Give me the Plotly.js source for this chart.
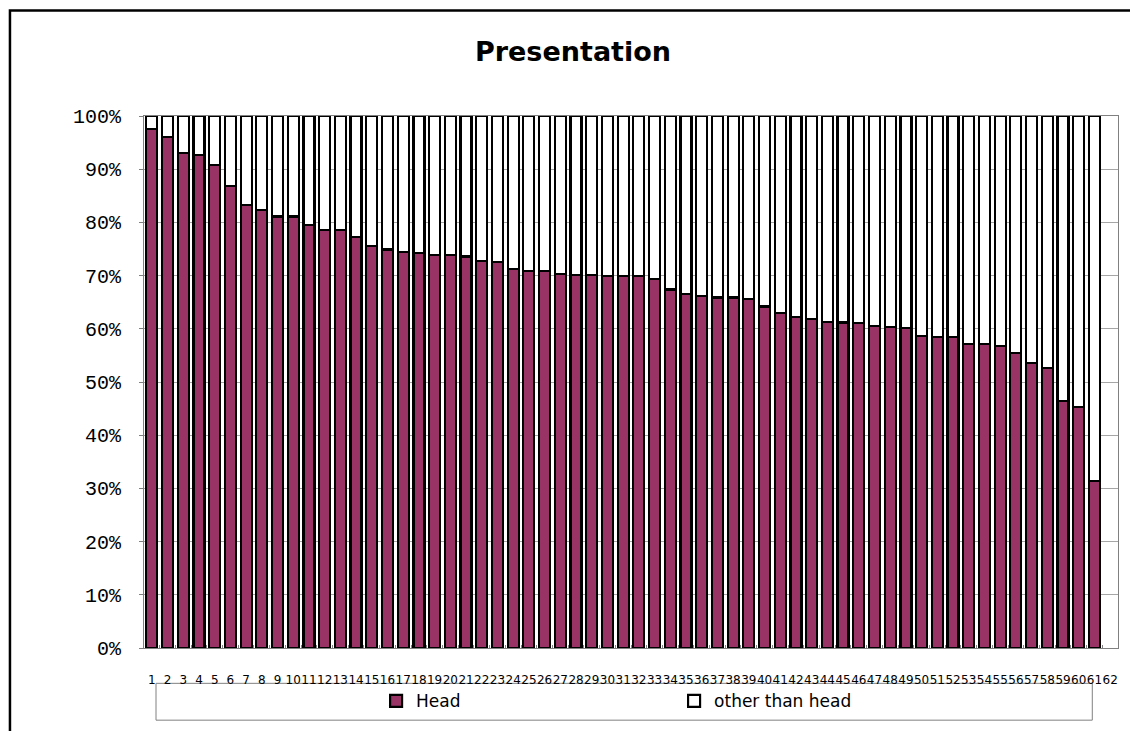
<!DOCTYPE html>
<html>
<head>
<meta charset="utf-8">
<script src="https://cdn.plot.ly/plotly-3.0.1.min.js"></script>
<style>
html,body{margin:0;padding:0;background:#fff;}
#chart{width:1130px;height:731px;}
</style>
</head>
<body>
<div id="chart"></div>
<script>
var categories = ['1','2','3','4','5','6','7','8','9','10','11','12','13','14','15','16','17','18','19','20',
  '21','22','23','24','25','26','27','28','29','30','31','32','33','34','35','36','37','38','39','40',
  '41','42','43','44','45','46','47','48','49','50','51','52','53','54','55','56','57','58','59','60','61','62'];

var headValues = [97.5, 96.1, 93.0, 92.7, 90.8, 86.9, 83.2, 82.3, 81.1, 81.1,
  79.5, 78.6, 78.6, 77.3, 75.6, 74.9, 74.5, 74.3, 73.8, 73.8,
  73.6, 72.8, 72.6, 71.3, 70.9, 70.9, 70.3, 70.1, 70.1, 70.0,
  69.9, 69.9, 69.3, 67.4, 66.5, 66.2, 65.9, 65.9, 65.6, 64.2,
  62.9, 62.2, 61.8, 61.3, 61.2, 61.1, 60.5, 60.3, 60.2, 58.7,
  58.4, 58.4, 57.1, 57.1, 56.7, 55.5, 53.5, 52.6, 46.5, 45.3,
  31.4, null];

var otherValues = [2.5, 3.9, 7.0, 7.3, 9.2, 13.1, 16.8, 17.7, 18.9, 18.9,
  20.5, 21.4, 21.4, 22.7, 24.4, 25.1, 25.5, 25.7, 26.2, 26.2,
  26.4, 27.2, 27.4, 28.7, 29.1, 29.1, 29.7, 29.9, 29.9, 30.0,
  30.1, 30.1, 30.7, 32.6, 33.5, 33.8, 34.1, 34.1, 34.4, 35.8,
  37.1, 37.8, 38.2, 38.7, 38.8, 38.9, 39.5, 39.7, 39.8, 41.3,
  41.6, 41.6, 42.9, 42.9, 43.3, 44.5, 46.5, 47.4, 53.5, 54.7,
  68.6, null];

var yTickVals = [0,10,20,30,40,50,60,70,80,90,100];
var yTickText = ['0%','10%','20%','30%','40%','50%','60%','70%','80%','90%','100%'];

var seriesNames = ['Head', 'other than head'];

var traces = [
  {type:'bar', name:seriesNames[0], x:categories, y:headValues,
   marker:{color:'#993366', line:{color:'#000000', width:2.2}}},
  {type:'bar', name:seriesNames[1], x:categories, y:otherValues,
   marker:{color:'#ffffff', line:{color:'#000000', width:2.2}}}
];

// plot area in pixels: left 144, right 1117.7, top 116, bottom 650.5
var L = 144, R = 1130 - 1117.7, T = 116, B = 731 - 650.5;
var pw = 1130 - L - R, ph = 731 - T - B;
function px(x){ return (x - L) / pw; }
function py(y){ return (731 - B - y) / ph; }

var layout = {
  width:1130, height:731,
  paper_bgcolor:'#ffffff', plot_bgcolor:'#ffffff',
  margin:{l:L, r:R, t:T, b:B, pad:0},
  barmode:'stack', bargap:0.3,
  title:{text:'<b>Presentation</b>', x:573/1130, xanchor:'center', y:1-52/731, yanchor:'middle',
         font:{family:'DejaVu Sans', size:27, color:'#000000'}},
  xaxis:{type:'category', range:[-0.5, 61.5], tickmode:'array', tickvals:categories, ticktext:categories,
         tickangle:0, showgrid:false, showline:true, linecolor:'#808080', linewidth:1, mirror:true,
         ticks:'inside', tickson:'boundaries', ticklen:3, tickcolor:'#808080',
         ticklabelstandoff:21, tickfont:{family:'DejaVu Sans', size:12, color:'#000000'}},
  yaxis:{range:[0,100], tickmode:'array', tickvals:yTickVals, ticktext:yTickText,
         showgrid:true, gridcolor:'#a6a6a6', gridwidth:1, showline:true, linecolor:'#808080', linewidth:1, mirror:true,
         ticks:'outside', ticklen:4, tickcolor:'#808080', zeroline:false,
         ticklabelstandoff:14, tickfont:{family:'Liberation Mono', size:20, color:'#000000'}},
  showlegend:true,
  legend:{orientation:'h', x:px(376), xanchor:'left', y:py(704), yanchor:'middle',
          bgcolor:'rgba(0,0,0,0)', borderwidth:0, entrywidth:253, traceorder:'normal',
          font:{family:'DejaVu Sans', size:17, color:'#000000'}},
  shapes:[
    {type:'rect', xref:'paper', yref:'paper', x0:px(156), x1:px(1092), y0:py(723), y1:py(686),
     line:{color:'#808080', width:1}, fillcolor:'rgba(0,0,0,0)', layer:'below'},
    {type:'rect', xref:'paper', yref:'paper', x0:px(10), x1:px(1160), y0:py(760), y1:py(10),
     line:{color:'#000000', width:2.5}, fillcolor:'rgba(0,0,0,0)', layer:'above'}
  ]
};

Plotly.newPlot('chart', traces, layout, {displayModeBar:false, staticPlot:true});
</script>
</body>
</html>
